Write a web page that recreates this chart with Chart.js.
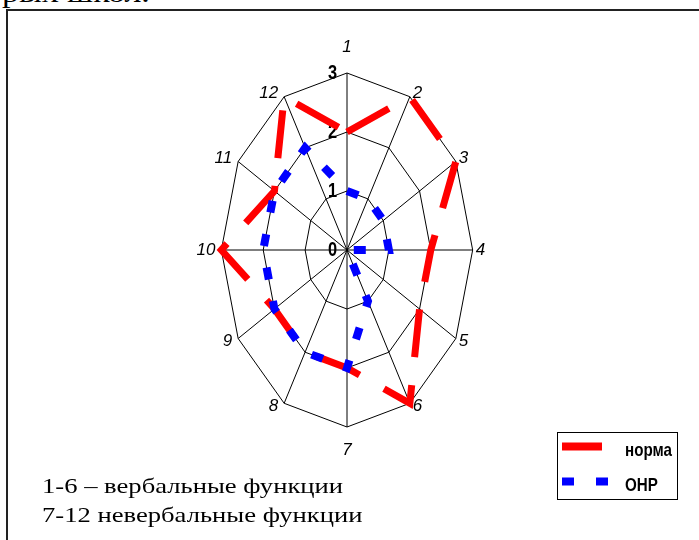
<!DOCTYPE html>
<html>
<head>
<meta charset="utf-8">
<script src="https://cdn.jsdelivr.net/npm/chart.js@4.4.0/dist/chart.umd.min.js"></script>
<style>
  html, body { margin: 0; padding: 0; background: #fff; }
  body { width: 699px; height: 540px; position: relative; overflow: hidden; }
  #chart { position: absolute; left: 0; top: 0; }
  .frame {
    position: absolute; left: 6px; top: 9px; right: -10px; bottom: -10px;
    border-left: 2px solid #222; border-top: 2px solid #222;
  }
  .cut, .note {
    position: absolute; white-space: nowrap; color: #000;
    font-family: "Liberation Serif", "Times New Roman", serif;
    transform: scaleX(1.21); transform-origin: 0 0;
  }
  .cut { left: 2px; top: -21px; font-size: 28px; line-height: 28px; }
  .note { left: 42px; top: 472px; font-size: 22px; line-height: 28.7px; }
</style>
</head>
<body>
<div class="cut">рых школ.</div>
<div class="frame"></div>
<canvas id="chart" width="699" height="540"></canvas>
<div class="note">1-6 – вербальные функции<br>7-12 невербальные функции</div>

<script>
// axes of the radar (1-6 verbal, 7-12 non-verbal)
const axisLabels = ['1', '2', '3', '4', '5', '6', '7', '8', '9', '10', '11', '12'];
const normValues = [2, 3, 3, 2, 2, 3, 2, 2, 2, 3, 2, 3];
const onrValues  = [1, 1, 1, 1, 0, 1, 2, 2, 2, 2, 2, 2];
const seriesNames = ['норма', 'ОНР'];
const scaleMin = 0;
const scaleMax = 3;

// the original radar is an ellipse: horizontal radius ~0.71 of the vertical one
const xSqueeze = 0.71;
const narrow = 0.82; // Arial Narrow look, made from Liberation Sans
const tickFont = 'bold 20px "Liberation Sans", Arial, sans-serif';
const legendFont = 'bold 18.5px "Liberation Sans", Arial, sans-serif';
const axisFont = 'italic 17px "Liberation Sans", Arial, sans-serif';

function narrowText(ctx, text, x, y) {
  ctx.save();
  ctx.translate(x, y);
  ctx.scale(narrow, 1);
  ctx.fillText(text, 0, 0);
  ctx.restore();
}

class EllipseScale extends Chart.RadialLinearScale {
  getPointPosition(index, distance, extra) {
    const p = super.getPointPosition(index, distance, extra);
    p.x = this.xCenter + (p.x - this.xCenter) * xSqueeze;
    return p;
  }

  drawLabels() {
    const ctx = this.ctx;
    ctx.save();
    ctx.fillStyle = '#000';

    // value labels sit just left of axis 1
    ctx.font = tickFont;
    ctx.textAlign = 'right';
    ctx.textBaseline = 'middle';
    this.ticks.forEach(t => {
      const y = this.yCenter - this.getDistanceFromCenterForValue(t.value);
      narrowText(ctx, t.label, this.xCenter - 10, y);
    });

    // axis names next to the outer vertices
    ctx.font = axisFont;
    this._pointLabels.forEach((lbl, i) => {
      const p = this.getPointPosition(i, this.drawingArea);
      const dx = p.x - this.xCenter;
      const dy = p.y - this.yCenter;
      if (Math.abs(dx) < 1) {
        ctx.textAlign = 'center';
        ctx.fillText(lbl, p.x, dy < 0 ? p.y - 25.5 : p.y + 23.5);
      } else {
        const shiftY = Math.abs(dy) < 1 ? 0 : Math.sign(dy) * 3;
        ctx.textAlign = dx > 0 ? 'left' : 'right';
        ctx.fillText(lbl, dx > 0 ? p.x + 3 : p.x - 6, p.y + shiftY);
      }
    });
    ctx.restore();
  }
}
EllipseScale.id = 'ellipse';
EllipseScale.defaults = Chart.RadialLinearScale.defaults;
Chart.register(EllipseScale);

// framed legend at the bottom right
const legendBox = {
  id: 'legendBox',
  afterDraw(chart) {
    const ctx = chart.ctx;
    const sampleLen = [40, 46];
    ctx.save();
    ctx.strokeStyle = '#000';
    ctx.lineWidth = 1;
    ctx.strokeRect(557.5, 432.5, 120, 67);
    chart.data.datasets.forEach((ds, i) => {
      const y = 446.5 + i * 35;
      ctx.strokeStyle = ds.borderColor;
      ctx.lineWidth = 8;
      ctx.lineCap = 'butt';
      ctx.setLineDash(ds.borderDash);
      ctx.beginPath();
      ctx.moveTo(562, y);
      ctx.lineTo(562 + sampleLen[i], y);
      ctx.stroke();
      ctx.setLineDash([]);
      ctx.fillStyle = '#000';
      ctx.font = legendFont;
      ctx.textAlign = 'left';
      ctx.textBaseline = 'alphabetic';
      narrowText(ctx, ds.label, 625, y + 9.5);
    });
    ctx.restore();
  }
};

new Chart(document.getElementById('chart'), {
  type: 'radar',
  data: {
    labels: axisLabels,
    datasets: [
      {
        label: seriesNames[0],
        data: normValues,
        borderColor: '#ff0000',
        borderWidth: 7,
        borderDash: [48, 28],
        order: 2
      },
      {
        label: seriesNames[1],
        data: onrValues,
        borderColor: '#0000ff',
        borderWidth: 8,
        borderDash: [12, 22],
        order: 1
      }
    ]
  },
  options: {
    responsive: false,
    animation: false,
    layout: { padding: { top: 73, bottom: 113, left: 0, right: 5 } },
    elements: {
      line: { fill: false, tension: 0, borderJoinStyle: 'miter', borderCapStyle: 'butt' },
      point: { radius: 0, hoverRadius: 0 }
    },
    datasets: { radar: { clip: false } },
    scales: {
      r: {
        type: 'ellipse',
        min: scaleMin,
        max: scaleMax,
        beginAtZero: true,
        ticks: { stepSize: 1, display: false },
        pointLabels: { display: false },
        grid: { color: '#000', lineWidth: 1 },
        angleLines: { color: '#000', lineWidth: 1 }
      }
    },
    plugins: {
      legend: { display: false },
      tooltip: { enabled: false }
    }
  },
  plugins: [legendBox]
});
</script>
</body>
</html>
